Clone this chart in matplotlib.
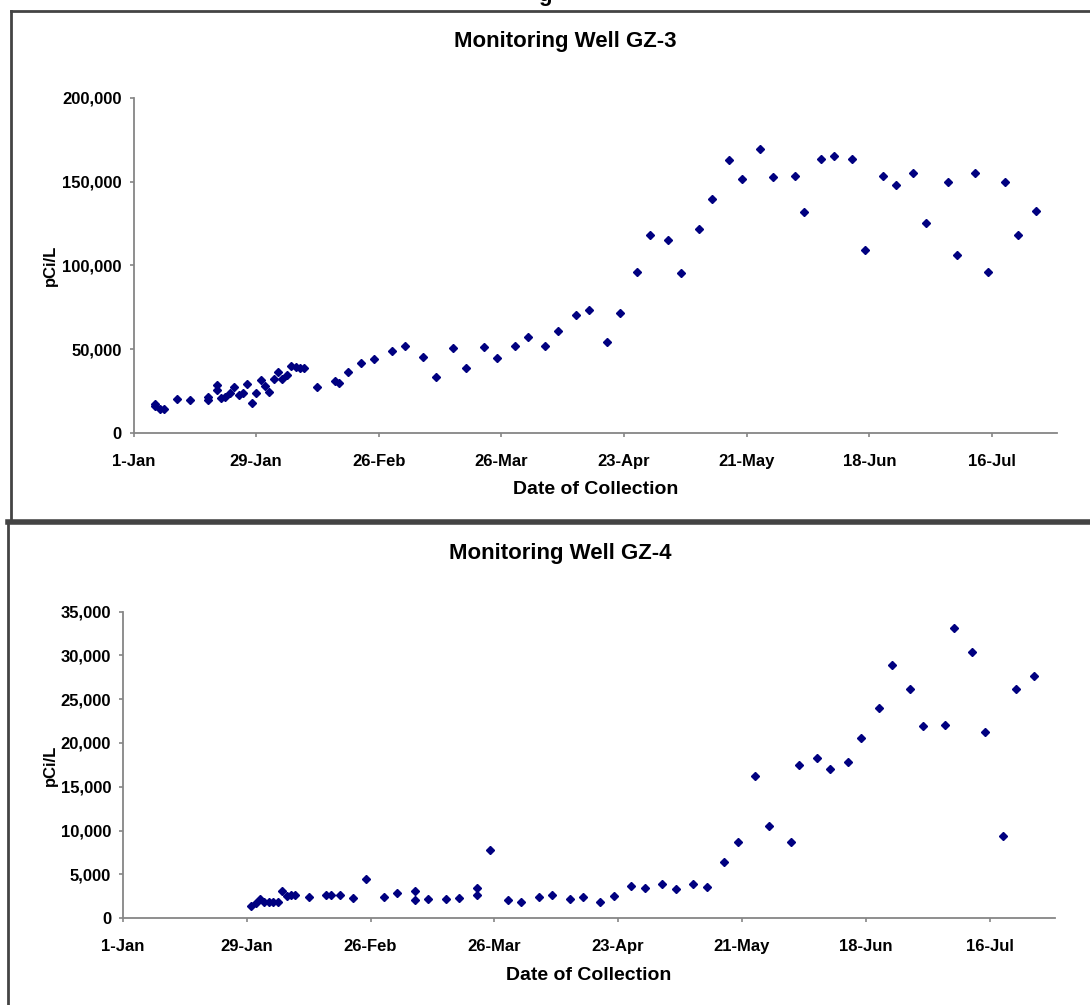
import matplotlib.pyplot as plt
from matplotlib.lines import Line2D
from matplotlib.ticker import FuncFormatter

# days counted from 1-Jan
tick_days = [0, 28, 56, 84, 112, 140, 168, 196]
tick_labels = ['1-Jan', '29-Jan', '26-Feb', '26-Mar', '23-Apr', '21-May', '18-Jun', '16-Jul']

gz3_day = [5, 5, 6, 7, 10, 13, 17, 17, 19, 19, 20, 21, 22, 23, 24, 25, 26, 27, 28, 29,
           30, 31, 32, 33, 34, 35, 36, 37, 38, 39, 42, 46, 47, 49, 52, 55, 59, 62, 66, 69,
           73, 76, 80, 83, 87, 90, 94, 97, 101, 104, 108, 111, 115, 118, 122, 125, 129, 132,
           136, 139, 143, 146, 151, 153, 157, 160, 164, 167, 171, 174, 178, 181, 186, 188,
           192, 195, 199, 202, 206]
gz3_pci = [17100, 16100, 14100, 14300, 20200, 19600, 21400, 19600, 28600, 25600, 20800,
           21400, 23800, 27400, 22600, 23800, 29200, 17900, 23800, 31500, 28000, 24400,
           32100, 36300, 32100, 34500, 39900, 39300, 38700, 38700, 27400, 31000, 29800,
           36300, 41700, 44100, 48800, 52000, 45500, 33500, 50500, 38600, 51100, 44900,
           52000, 57400, 52000, 60800, 70300, 73300, 54400, 71700, 96100, 118400, 115400,
           95500, 121600, 139300, 162700, 151500, 169300, 152600, 153400, 131900, 163600,
           165200, 163600, 109000, 153400, 147900, 155000, 125000, 149500, 105900, 155000,
           96300, 149500, 118400, 132600]

gz4_day = [29, 30, 31, 32, 33, 34, 35, 36, 37, 38, 39, 42, 46, 47, 49, 52, 55, 59, 62, 66,
           66, 69, 73, 76, 80, 80, 83, 87, 90, 94, 97, 101, 104, 108, 111, 115, 118, 122,
           125, 129, 132, 136, 139, 143, 146, 151, 153, 157, 160, 164, 167, 171, 174, 178,
           181, 186, 188, 192, 195, 199, 202, 206]
gz4_pci = [1430, 1700, 2160, 1900, 1900, 1900, 1900, 3100, 2500, 2700, 2700, 2400, 2700,
           2700, 2700, 2270, 4500, 2450, 2840, 3100, 2100, 2200, 2200, 2300, 3500, 2650,
           7800, 2100, 1900, 2400, 2650, 2200, 2400, 1900, 2500, 3700, 3400, 3900, 3300,
           3900, 3600, 6400, 8700, 16200, 10500, 8700, 17500, 18300, 17000, 17800, 20600,
           24000, 28900, 26200, 21900, 22000, 33100, 30400, 21300, 9350, 26200, 27600]

W, H = 1090, 1005
fig = plt.figure(figsize=(W / 100, H / 100), dpi=100)
plt.rcParams['font.family'] = ['Liberation Sans', 'DejaVu Sans']

navy = '#000080'
axis_grey = '#868686'
comma = FuncFormatter(lambda v, p: f'{int(v):,}')


def style_axes(ax, ymax, ystep):
    ax.set_xlim(0, 210.8)
    ax.set_ylim(0, ymax)
    ax.set_xticks(tick_days)
    ax.set_xticklabels(tick_labels)
    ax.set_yticks(range(0, ymax + 1, ystep))
    ax.yaxis.set_major_formatter(comma)
    for s in ['top', 'right']:
        ax.spines[s].set_visible(False)
    for s in ['left', 'bottom']:
        ax.spines[s].set_color(axis_grey)
        ax.spines[s].set_linewidth(1.3)
    ax.tick_params(direction='out', length=3, width=1.2, color=axis_grey, labelsize=12)
    ax.tick_params(axis='x', pad=12)
    ax.tick_params(axis='y', pad=5.5)
    for lab in ax.get_xticklabels() + ax.get_yticklabels():
        lab.set_fontweight('bold')
    ax.set_xlabel('Date of Collection', fontsize=14, fontweight='bold', labelpad=9)
    ax.set_ylabel('pCi/L', fontsize=12, fontweight='bold')
    ax.patch.set_alpha(0)


# top chart
ax1 = fig.add_axes([133.5 / W, 1 - 433 / H, (1057 - 133.5) / W, (433 - 97.7) / H])
ax1.plot(gz3_day, gz3_pci, linestyle='none', marker='D', markersize=3.8,
         color=navy, clip_on=False)
style_axes(ax1, 200000, 50000)
ax1.yaxis.set_label_coords(-0.0815, 0.5)
fig.text(565 / W, 1 - 42 / H, 'Monitoring Well GZ-3', ha='center', va='center',
         fontsize=16, fontweight='bold')

# bottom chart
ax2 = fig.add_axes([123 / W, 1 - 918.3 / H, (1055 - 123) / W, (918.3 - 611.5) / H])
ax2.plot(gz4_day, gz4_pci, linestyle='none', marker='D', markersize=3.8,
         color=navy, clip_on=False)
style_axes(ax2, 35000, 5000)
ax2.yaxis.set_label_coords(-0.0695, 0.5)
fig.text(560 / W, 1 - 554 / H, 'Monitoring Well GZ-4', ha='center', va='center',
         fontsize=16, fontweight='bold')

# panel borders
border = '#444444'
fig.add_artist(Line2D([10.7 / W, 1], [1 - 11 / H, 1 - 11 / H], color=border, lw=2))
fig.add_artist(Line2D([10.7 / W, 10.7 / W], [1 - 11 / H, 1 - 521 / H], color=border, lw=2))
fig.add_artist(Line2D([8.3 / W, 1], [1 - 522 / H, 1 - 522 / H], color=border, lw=4))
fig.add_artist(Line2D([8.3 / W, 8.3 / W], [1 - 522 / H, 0], color=border, lw=2))

# cropped glyph left over at the very top
fig.text(545 / W, 1 - 0.5 / H, 'g', ha='center', va='baseline', fontsize=16,
         fontweight='bold')

fig.savefig('out.png', dpi=100)
